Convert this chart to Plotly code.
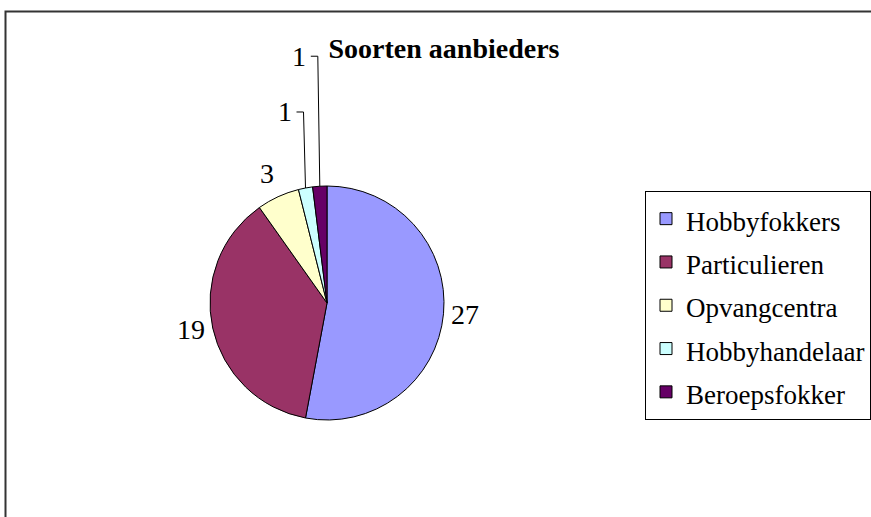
import math
import plotly.graph_objects as go

# ---- data ----
categories = ["Hobbyfokkers", "Particulieren", "Opvangcentra", "Hobbyhandelaar", "Beroepsfokker"]
values = [27, 19, 3, 1, 1]
title_text = "Soorten aanbieders"

# ---- style ----
colors = ["#9999FF", "#993366", "#FFFFCC", "#CCFFFF", "#660066"]
W, H = 871, 517
CX, CY, R = 327, 303, 117          # pie centre / radius in px
label_gap = 6                      # gap between slice edge and its value label
label_lift = [0, 0, 0, 76, 130]    # small slices: label pulled up, with leader line
FONT = "Liberation Serif"
LEGEND_TEXT_SIZE = 27


def px(x):
    return x / W


def py(y):
    return 1 - y / H


legend_labels = ["<span style='font-size:%dpx'>%s</span>" % (LEGEND_TEXT_SIZE, c) for c in categories]

fig = go.Figure()
fig.add_trace(go.Pie(
    labels=legend_labels,
    values=values,
    sort=False,
    direction="clockwise",
    rotation=0,
    marker=dict(colors=colors, line=dict(color="black", width=1)),
    textinfo="none",
    hoverinfo="label+value",
    domain=dict(x=[px(CX - R), px(CX + R)], y=[py(CY + R), py(CY - R)]),
))

# value labels placed from each slice's mid angle
total = sum(values)
cum = 0.0
annotations = []
shapes = []
for v, lift in zip(values, label_lift):
    mid = (cum + v / 2) / total * 2 * math.pi   # clockwise from 12 o'clock
    cum += v
    s, c = math.sin(mid), math.cos(mid)
    if lift == 0:
        x = CX + (R + label_gap) * s
        y = CY - (R + label_gap) * c
        xanchor = "left" if s > 0.1 else ("right" if s < -0.1 else "center")
        yanchor = "bottom" if c > 0.5 else ("top" if c < -0.5 else "middle")
        annotations.append(dict(x=px(x), y=py(y), xref="paper", yref="paper",
                                text=str(v), showarrow=False, xanchor=xanchor,
                                yanchor=yanchor, font=dict(family=FONT, size=28, color="black")))
    else:
        ex, ey = CX + R * s, CY - R * c
        vx = ex - 2
        ly = ey - lift
        hx = vx - 7
        for (x0, y0, x1, y1) in [(ex, ey, vx, ly), (vx, ly, hx, ly)]:
            shapes.append(dict(type="line", xref="paper", yref="paper",
                               x0=px(x0), y0=py(y0), x1=px(x1), y1=py(y1),
                               line=dict(color="black", width=1)))
        annotations.append(dict(x=px(hx - 3), y=py(ly), xref="paper", yref="paper",
                                text=str(v), showarrow=False, xanchor="right",
                                yanchor="middle",
                                font=dict(family=FONT, size=28, color="black")))

# chart frame
shapes.append(dict(type="rect", xref="paper", yref="paper",
                   x0=px(5.5), y0=-0.1, x1=1.1, y1=py(11.5),
                   line=dict(color="#333333", width=2), fillcolor="rgba(0,0,0,0)"))

fig.update_layout(
    width=W, height=H,
    margin=dict(l=0, r=0, t=0, b=0, autoexpand=False),
    paper_bgcolor="white",
    plot_bgcolor="white",
    title=dict(text="<b>" + title_text + "</b>", x=px(444), y=py(48),
               xanchor="center", yanchor="middle",
               font=dict(family=FONT, size=28, color="black")),
    legend=dict(x=px(645), y=py(191), xanchor="left", yanchor="top",
                bordercolor="black", borderwidth=1, bgcolor="white",
                font=dict(family=FONT, size=31, color="black"),
                traceorder="normal"),
    annotations=annotations,
    shapes=shapes,
)

fig.write_html("out.html", config={"displayModeBar": False},
               post_script="document.body.style.margin='0px';document.body.style.overflow='hidden';")
